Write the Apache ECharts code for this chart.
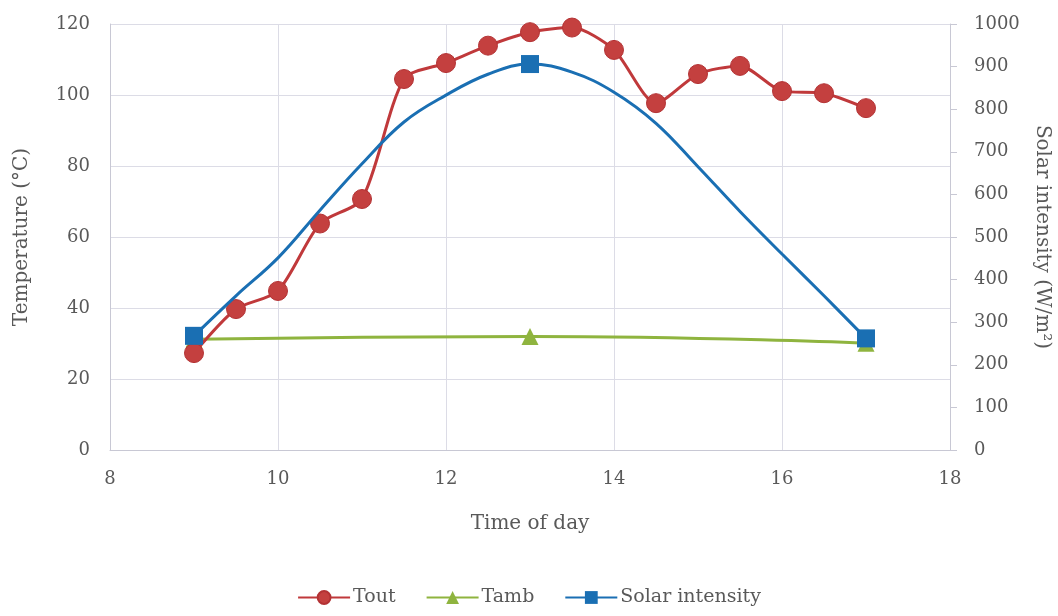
<!DOCTYPE html>
<html><head><meta charset="utf-8">
<script src="https://cdn.jsdelivr.net/npm/echarts@6/dist/echarts.min.js"></script>
<style>html,body{margin:0;padding:0;background:#fff}#c{width:1058px;height:616px}</style>
</head><body><div id="c"></div>
<script>
const toutTime = [9, 9.5, 10, 10.5, 11, 11.5, 12, 12.5, 13, 13.5, 14, 14.5, 15, 15.5, 16, 16.5, 17];
const toutValues = [27.3, 39.7, 44.8, 63.8, 70.7, 104.5, 109, 113.9, 117.7, 119, 112.7, 97.7, 105.9, 108.2, 101.1, 100.5, 96.3];
const tambTime = [9, 13, 17];
const tambValues = [31.2, 32, 30.1];
const solarTime = [9, 9.5, 10, 10.5, 11, 11.5, 12, 12.5, 13, 13.5, 14, 14.5, 15, 15.5, 16, 16.5, 17];
const solarValues = [268, 362, 451, 563, 672, 770, 833, 882, 906, 887, 840, 767, 665, 560, 460, 362, 262];
const solarMarkerTimes = [9, 13, 17];
const xTicks = [8, 10, 12, 14, 16, 18];

const font = 'DejaVu Serif';
const grey = '#595959';
const zip = (a, b) => a.map((v, i) => [v, b[i]]);

const chart = echarts.init(document.getElementById('c'));
chart.setOption({
  animation: false,
  textStyle: { fontFamily: font },
  grid: { left: 110, right: 108, top: 24, bottom: 166, containLabel: false, outerBoundsMode: 'none' },
  xAxis: {
    type: 'value', min: xTicks[0], max: xTicks[xTicks.length - 1], interval: 2,
    name: 'Time of day', nameLocation: 'middle', nameGap: 64,
    nameTextStyle: { fontFamily: font, fontSize: 20, color: grey },
    axisLine: { lineStyle: { color: '#c8c8d4' } },
    axisTick: { show: false },
    axisLabel: { fontFamily: font, fontSize: 18, color: grey, margin: 20 },
    splitLine: { show: true, lineStyle: { color: '#dcdce6' } }
  },
  yAxis: [{
    type: 'value', min: 0, max: 120, interval: 20,
    name: 'Temperature (°C)', nameLocation: 'middle', nameGap: 78,
    nameTextStyle: { fontFamily: font, fontSize: 20, color: grey },
    axisLine: { show: true, lineStyle: { color: '#c8c8d4' } },
    axisTick: { show: false },
    axisLabel: { fontFamily: font, fontSize: 18, color: grey, margin: 20 },
    splitLine: { show: true, lineStyle: { color: '#dcdce6' } }
  }, {
    type: 'value', min: 0, max: 1000, interval: 100, position: 'right',
    name: 'Solar intensity (W/m²)', nameLocation: 'middle', nameGap: 82, nameRotate: -90,
    nameTextStyle: { fontFamily: font, fontSize: 20, color: grey },
    axisLine: { show: true, lineStyle: { color: '#c8c8d4' } },
    axisTick: { show: true, length: 7, lineStyle: { color: '#c8c8d4' } },
    axisLabel: { fontFamily: font, fontSize: 18, color: grey, margin: 24, formatter: (v) => String(v) },
    splitLine: { show: false }
  }],
  legend: {
    bottom: 4, left: 'center', itemWidth: 52, itemHeight: 16, itemGap: 30,
    textStyle: { fontFamily: font, fontSize: 19, color: grey, padding: [0, 0, 0, -2] },
    data: ['Tout', 'Tamb', 'Solar intensity']
  },
  series: [{
    name: 'Tamb', type: 'line', yAxisIndex: 0, smooth: true,
    data: zip(tambTime, tambValues),
    symbol: 'triangle', symbolSize: 17,
    lineStyle: { color: '#8fb43f', width: 3 },
    itemStyle: { color: '#8fb43f' }, z: 2
  }, {
    name: 'Tout', type: 'line', yAxisIndex: 0, smooth: 0.25,
    data: zip(toutTime, toutValues),
    symbol: 'circle', symbolSize: 19,
    lineStyle: { color: '#c0393b', width: 3 },
    itemStyle: { color: '#c4403f', borderColor: '#b33234', borderWidth: 1 }, z: 3
  }, {
    name: 'Solar intensity', type: 'line', yAxisIndex: 1, smooth: 0.4,
    data: zip(solarTime, solarValues),
    symbol: 'rect', showAllSymbol: true,
    symbolSize: (v) => solarMarkerTimes.includes(v[0]) ? 18 : 0,
    lineStyle: { color: '#1a6fb3', width: 3 },
    itemStyle: { color: '#1a6fb3' }, z: 4
  }]
});
</script></body></html>
